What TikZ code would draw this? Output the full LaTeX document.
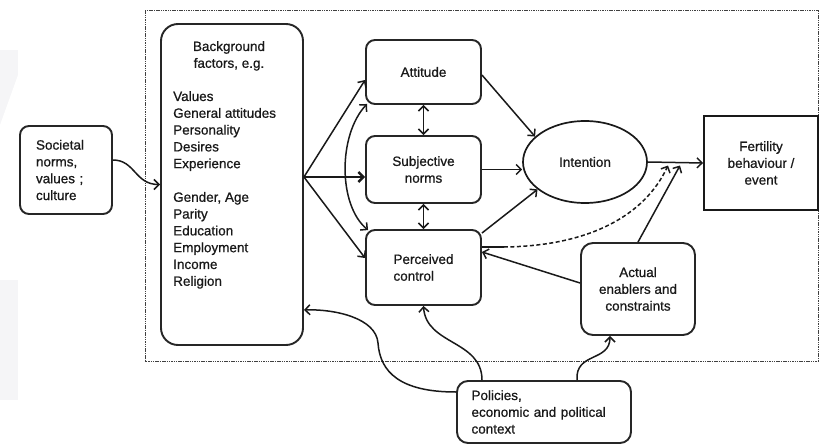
\documentclass[tikz,border=0pt]{standalone}
\usepackage{fontspec}
\setmainfont{Liberation Sans}[AutoFakeBold=0.8]
\usetikzlibrary{arrows.meta,shapes.geometric,calc}
\newcommand\dfont{\fontsize{13.5}{16.8}\selectfont\bfseries}
\begin{document}
\begin{tikzpicture}[x=1pt,y=-1pt,
  every node/.style={font=\dfont, text=black!90},
  box/.style={draw=black!85, line width=1.9pt, rounded corners=9pt, inner sep=0pt, align=center},
  arr/.style={draw=black!90, line width=1.5pt, -{Straight Barb[length=5pt,width=10pt]}},
  dbl/.style={draw=black!90, line width=1.5pt, {Straight Barb[length=5pt,width=10pt]}-{Straight Barb[length=5pt,width=10pt]}},
  frame/.style={draw=black!75, line width=0.8pt, dash pattern=on 1.5pt off 0.8pt}]
\useasboundingbox (0,0) rectangle (819,447);
% faint watermark at left edge
\fill[blue!15!gray!7] (0,50) -- (18,50) -- (18,165) -- (0,165) -- cycle;
\fill[white] (0,125) -- (18,75) -- (18,165) -- (0,165) -- cycle;
\fill[blue!15!gray!7] (0,280) -- (18,280) -- (18,400) -- (0,400) -- cycle;
\fill[white] (0,447) -- (18,400) -- (0,400) -- cycle;
% frame
\draw[frame] (145,10) rectangle (818,361);
% nodes
\node[box, minimum width=92pt, minimum height=88pt, text width=60pt, align=left] (soc) at (66,170)
  {Societal\\norms,\\values ;\\culture};
\node[box, rounded corners=17pt, minimum width=142pt, minimum height=321pt] (bg) at (232,184.5) {};
\node[anchor=north, align=center, inner sep=0pt] (bgh) at (229,41) {Background\\factors, e.g.};
\node[anchor=north west, align=left, inner sep=0pt] (bgl) at (173,91)
  {Values\\General attitudes\\Personality\\Desires\\Experience\\[16.8pt]Gender, Age\\Parity\\Education\\Employment\\Income\\Religion};
\node[box, minimum width=115pt, minimum height=64pt] (att) at (423.5,72) {Attitude};
\node[box, minimum width=115pt, minimum height=67pt] (sn) at (423.5,169.5) {Subjective\\norms};
\node[box, minimum width=115pt, minimum height=75pt, align=left] (pc) at (423.5,267.5) {Perceived\\control};
\node[draw=black!90, line width=1.7pt, ellipse, minimum width=124pt, minimum height=82pt, inner sep=0pt] (int) at (585,162) {Intention};
\node[draw=black!90, line width=1.9pt, minimum width=114pt, minimum height=94pt, inner sep=0pt, align=center] (fert) at (761,163)
  {Fertility\\behaviour /\\event};
\node[box, rounded corners=12pt, minimum width=114pt, minimum height=92pt] (act) at (638,289)
  {Actual\\enablers and\\constraints};
\node[box, rounded corners=11pt, minimum width=174pt, minimum height=62pt, text width=145pt, align=left] (pol) at (544,412)
  {Policies,\\economic and political\\context};
% coordinates
\coordinate (fan) at ($(bg.east)+(0,-7.5)$);
\coordinate (m1) at (668,165.5);
\coordinate (m2) at (680,165.5);
\coordinate (dst) at ($(pc.east)+(22,-20.5)$);
% connectors
\draw[arr] ($(soc.east)+(0,-10)$) .. controls (135,160) and (135,184.5) .. (bg.west);
\draw[arr] (fan) -- ($(att.west)+(0,8)$);
\draw[arr, line width=2.4pt] (fan) -- (sn.west |- fan);
\draw[arr] (fan) -- ($(pc.west)+(0,-9.5)$);
\draw[dbl] ($(att.south west)+(2,-1)$) .. controls (338,135) and (338,205) .. ($(pc.north west)+(3,1)$);
\draw[dbl] (att.south) -- (sn.north);
\draw[dbl] (sn.south) -- (pc.north);
\draw[arr] ($(att.east)+(0,3)$) -- (int.153);
\draw[arr] (sn.east) -- (int.west |- sn.east);
\draw[arr] ($(pc.north east)+(0,4)$) -- (int.210);
\draw[arr] (int.east) -- (fert.west);
\draw[draw=black!90, line width=2.6pt] ($(pc.east)+(0,-20.5)$) -- (dst);
\draw[arr, dash pattern=on 4pt off 2.5pt] (dst) .. controls (590,246) and (645,215) .. (m1);
\draw[arr] (act.north) -- (m2);
\draw[arr] ($(act.west)+(0,-6)$) -- ($(pc.east)+(0,-15.5)$);
\draw[arr] ($(pol.west)+(0,-20)$) .. controls (400,392) and (380,372) .. (378,343)
  .. controls (376,318) and (335,309) .. ($(bg.south east)+(0,-36)$);
\draw[arr] ($(pol.north)+(-62,0)$) .. controls (482,340) and (426,345) .. (pc.south);
\draw[arr] ($(pol.north)+(33,0)$) .. controls (575,352) and (610,362) .. ($(act.south)+(-28,0)$);
\end{tikzpicture}
\end{document}
